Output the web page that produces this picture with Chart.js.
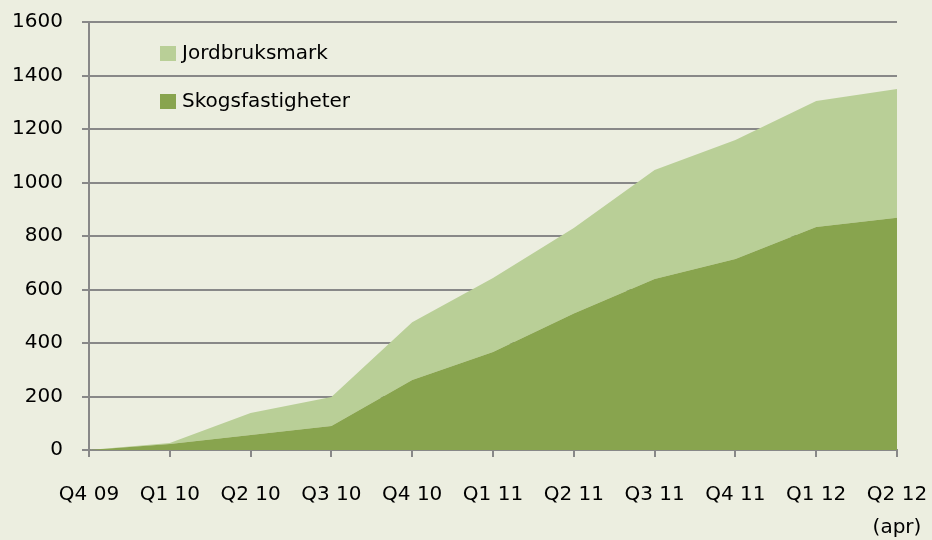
<!DOCTYPE html>
<html lang="sv">
<head>
  <meta charset="UTF-8">
  <title>Skogsfastigheter och jordbruksmark</title>
  <script src="https://cdn.jsdelivr.net/npm/chart.js"></script>
  <style>
    body {
      margin: 0;
      background: #eceee0;
    }
    .wrap {
      width: 932px;
      height: 540px;
    }
  </style>
</head>
<body>
  <div class="wrap">
    <canvas id="arealChart" width="932" height="540"></canvas>
  </div>

  <script>
    const kvartal = ['Q4 09', 'Q1 10', 'Q2 10', 'Q3 10', 'Q4 10', 'Q1 11', 'Q2 11', 'Q3 11', 'Q4 11', 'Q1 12', ['Q2 12', '(apr)']];
    const skogsfastigheter = [0, 22, 56, 90, 262, 366, 510, 639, 714, 834, 868];
    const jordbruksmark = [0, 4, 82, 108, 216, 277, 320, 408, 445, 471, 482];
    const yTicks = [0, 200, 400, 600, 800, 1000, 1200, 1400, 1600];

    const ljusGron = '#b9cf97';
    const morkGron = '#88a44e';
    const gra = '#888888';
    const typsnitt = { family: '"DejaVu Sans", sans-serif', size: 20 };

    // legend drawn inside the plot, top left
    const egenLegend = {
      id: 'egenLegend',
      afterDraw(chart) {
        const ctx = chart.ctx;
        const poster = [
          { text: 'Jordbruksmark', color: ljusGron, y: 53 },
          { text: 'Skogsfastigheter', color: morkGron, y: 101 }
        ];
        ctx.save();
        ctx.font = '20px "DejaVu Sans", sans-serif';
        ctx.textBaseline = 'middle';
        poster.forEach(p => {
          ctx.fillStyle = p.color;
          ctx.fillRect(160, p.y - 7, 16, 15);
          ctx.fillStyle = '#000';
          ctx.fillText(p.text, 182, p.y + 1);
        });
        ctx.restore();
      }
    };

    const nollPadding = s => {
      s.paddingLeft = 0;
      s.paddingRight = 0;
      s.paddingTop = 0;
      s.paddingBottom = 0;
    };

    new Chart(document.getElementById('arealChart'), {
      type: 'line',
      data: {
        labels: kvartal,
        datasets: [
          {
            label: 'Skogsfastigheter',
            data: skogsfastigheter,
            backgroundColor: morkGron,
            borderWidth: 0,
            pointRadius: 0,
            fill: 'origin'
          },
          {
            label: 'Jordbruksmark',
            data: jordbruksmark,
            backgroundColor: ljusGron,
            borderWidth: 0,
            pointRadius: 0,
            fill: '-1'
          }
        ]
      },
      options: {
        responsive: false,
        animation: false,
        layout: { padding: { top: 22, right: 35, left: 0, bottom: 0 } },
        plugins: {
          legend: { display: false },
          tooltip: { enabled: false }
        },
        scales: {
          x: {
            offset: false,
            grid: {
              drawOnChartArea: false,
              drawTicks: true,
              tickLength: 7,
              color: gra,
              lineWidth: 2
            },
            border: { display: true, color: gra, width: 2 },
            ticks: {
              autoSkip: false,
              maxRotation: 0,
              color: '#000',
              padding: 21,
              font: { ...typsnitt, lineHeight: 1.65 }
            },
            afterFit: s => { s.height = 90; nollPadding(s); }
          },
          y: {
            stacked: true,
            min: 0,
            max: 1600,
            afterBuildTicks: s => { s.ticks = yTicks.map(v => ({ value: v })); },
            grid: {
              color: gra,
              lineWidth: 2,
              tickLength: 7
            },
            border: { display: true, color: gra, width: 2 },
            ticks: {
              color: '#000',
              padding: 19,
              font: typsnitt,
              callback: v => String(v)
            },
            afterFit: s => { s.width = 89; nollPadding(s); }
          }
        }
      },
      plugins: [egenLegend]
    });
  </script>
</body>
</html>
